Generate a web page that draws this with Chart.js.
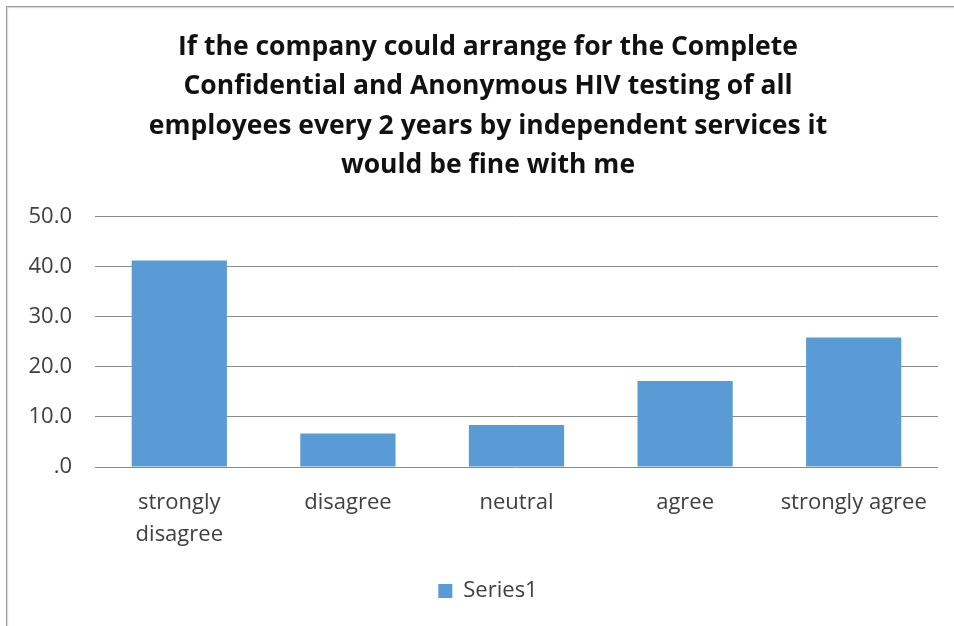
<!DOCTYPE html>
<html>
<head>
<meta charset="utf-8">
<script src="https://cdn.jsdelivr.net/npm/chart.js@4/dist/chart.umd.min.js"></script>
<style>
    html, body { margin: 0; padding: 0; background: #fff; }
    #wrap { position: relative; width: 954px; height: 626px; overflow: hidden; }
    #frame {
        position: absolute; left: 6px; top: 6px; width: 960px; height: 640px;
        border: 1px solid #9a9a9a; box-shadow: 1px 1px 1px #d8d8d8 inset;
    }
    canvas { position: absolute; left: 0; top: 0; }
</style>
</head>
<body>
<div id="wrap">
    <div id="frame"></div>
    <canvas id="grafico" width="954" height="626"></canvas>
</div>
<script>
const tituloLineas = [
    "If the company could arrange for the Complete",
    "Confidential and Anonymous HIV testing of all",
    "employees every 2 years by independent services it",
    "would be fine with me"
];
const categorias = [["strongly", "disagree"], "disagree", "neutral", "agree", "strongly agree"];
const serie1 = [41.3, 6.7, 8.4, 17.2, 25.9];
const nombreSerie = "Series1";

const fuente = "'Open Sans', Lato, sans-serif";
const azul = "#5b9bd5";

// el eje y se extiende hasta el borde para que sus etiquetas no se recorten
const ejeHastaBorde = {
    id: "ejeHastaBorde",
    afterLayout(chart) {
        chart.scales.y.left = 0;
    }
};

const ctx = document.getElementById("grafico").getContext("2d");
const grafico = new Chart(ctx, {
    type: "bar",
    data: {
        labels: categorias,
        datasets: [{
            label: nombreSerie,
            data: serie1,
            backgroundColor: azul,
            borderWidth: 0,
            categoryPercentage: 1,
            barPercentage: 0.565
        }]
    },
    plugins: [ejeHastaBorde],
    options: {
        responsive: false,
        animation: false,
        // el titulo y la leyenda quedan centrados algo a la derecha
        layout: { padding: { left: 38, right: 16, top: 0, bottom: 14 } },
        plugins: {
            title: {
                display: true,
                text: tituloLineas,
                color: "#111",
                font: { family: fuente, size: 26.5, weight: "bold", lineHeight: 1.48 },
                padding: { top: 28, bottom: 32 }
            },
            legend: {
                position: "bottom",
                labels: {
                    color: "#404040",
                    font: { family: fuente, size: 22 },
                    boxWidth: 14,
                    boxHeight: 14,
                    padding: 10
                }
            },
            tooltip: { enabled: false }
        },
        scales: {
            x: {
                grid: { display: false },
                border: { display: false },
                ticks: {
                    color: "#404040",
                    font: { family: fuente, size: 22, lineHeight: 1.48 },
                    padding: 11,
                    maxRotation: 0
                },
                afterFit: (escala) => { escala.height = 103; }
            },
            y: {
                min: 0,
                max: 50,
                grid: { color: "#8a8a8a", lineWidth: 1, drawTicks: false },
                border: { display: false },
                ticks: {
                    stepSize: 10,
                    color: "#404040",
                    padding: 23,
                    font: { family: fuente, size: 22 },
                    callback: (valor) => valor === 0 ? ".0" : valor.toFixed(1)
                },
                afterFit: (escala) => { escala.width = 57; }
            }
        }
    }
});
</script>
</body>
</html>
